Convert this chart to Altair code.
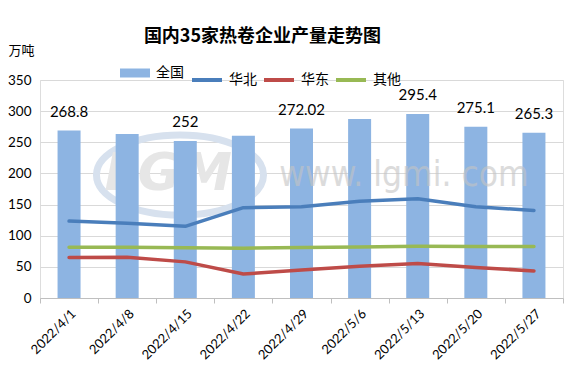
import altair as alt
import pandas as pd

dates = ["2022/4/1", "2022/4/8", "2022/4/15", "2022/4/22", "2022/4/29",
         "2022/5/6", "2022/5/13", "2022/5/20", "2022/5/27"]
national = [268.8, 263.5, 252, 260.5, 272.02, 287.5, 295.4, 275.1, 265.3]
north = [123.5, 120, 115, 145, 146.5, 155.5, 159.5, 146.5, 140.5]
east = [65, 65.5, 58, 38.5, 45, 51, 55.5, 49, 43.5]
other = [81.5, 81.5, 80.5, 80, 81, 82, 83, 82.5, 82.5]
label_text = ["268.8", "", "252", "", "272.02", "", "295.4", "275.1", "265.3"]
y_ticks = [0, 50, 100, 150, 200, 250, 300, 350]

series_names = ["华北", "华东", "其他"]
series_colors = ["#4A7EBB", "#BE4B48", "#98B954"]

bar_df = pd.DataFrame({"date": dates, "value": national, "label": label_text, "name": "全国"})
line_rows = []
for name, vals in zip(series_names, [north, east, other]):
    for d, v in zip(dates, vals):
        line_rows.append({"date": d, "value": v, "series": name})
line_df = pd.DataFrame(line_rows)
lab_df = bar_df[bar_df["label"] != ""]

FONT = "Lato"
CJK = "Noto Sans CJK SC"

x_enc = alt.X("date:N", sort=dates,
              scale=alt.Scale(paddingInner=0, paddingOuter=0),
              axis=alt.Axis(title=None, labelAngle=-45, labelFontSize=13, labelColor="#000",
                            labelFont=FONT, domainColor="#BFBFBF", tickColor="#BFBFBF",
                            tickBand="extent", tickSize=5, labelPadding=4, grid=False))
y_scale = alt.Scale(domain=[0, 350], nice=False)
y_axis = alt.Axis(title="万吨", titleAngle=0, titleAlign="left", titleX=-32, titleY=-30,
                  titleBaseline="middle", titleFont=CJK,
                  titleFontWeight="normal", titleFontSize=13, titleColor="#000",
                  values=y_ticks, tickCount=20, labelOverlap=False,
                  labelFont=FONT, labelFontSize=13.5, labelColor="#000",
                  labelPadding=9, ticks=False, domain=False,
                  gridColor="#D9D9D9", gridWidth=1)

# watermark (decorative, behind bars)
wm_ring = alt.Chart(pd.DataFrame({"k": [0]})).mark_point(
    shape="M-1,0A1,0.48 0 1,0 1,0A1,0.48 0 1,0 -1,0Z", size=27900, filled=False,
    stroke="#D7E1EE", strokeWidth=7, opacity=1
).encode(x=alt.value(140), y=alt.value(95))

wm_logo = alt.Chart(pd.DataFrame({"t": ["LGMI"]})).mark_text(
    font="DejaVu Sans", fontSize=52, fontWeight="bold", fontStyle="italic", color="#E6E6E6",
    align="center", baseline="middle"
).encode(x=alt.value(138), y=alt.value(94), text="t:N")

bars = alt.Chart(bar_df).mark_bar(size=23).encode(
    x=x_enc,
    y=alt.Y("value:Q", scale=y_scale, axis=y_axis),
    fill=alt.Fill("name:N", scale=alt.Scale(domain=["全国"], range=["#8DB4E2"]),
                  legend=alt.Legend(title=None, orient="none", legendX=85, legendY=-17,
                                    symbolType="M-1.5,-0.45H1.5V0.45H-1.5Z", symbolSize=400,
                                    labelFont=CJK, labelFontSize=14,
                                    labelColor="#000", labelOffset=11, symbolStrokeWidth=0)),
)

wm_url = alt.Chart(pd.DataFrame({"t": ["www. lgmi. com"]})).mark_text(
    font="DejaVu Sans Condensed", fontSize=35, color="#C4C4C4", opacity=0.6,
    align="center", baseline="middle"
).encode(x=alt.value(364), y=alt.value(95), text="t:N")

lines = alt.Chart(line_df).mark_line(strokeWidth=3.5, strokeJoin="round", strokeCap="round").encode(
    x=alt.X("date:N", sort=dates),
    y=alt.Y("value:Q", scale=y_scale, axis=y_axis),
    stroke=alt.Stroke("series:N", scale=alt.Scale(domain=series_names, range=series_colors),
                      legend=alt.Legend(title=None, orient="none", legendX=150, legendY=-17,
                                        direction="horizontal", symbolType="stroke",
                                        symbolSize=900, symbolStrokeWidth=4,
                                        labelFont=CJK, labelFontSize=14,
                                        labelColor="#000", labelOffset=5, columnPadding=-1)),
)

labels = alt.Chart(lab_df).mark_text(font=FONT, fontSize=15, color="#000", dy=-19,
                                     baseline="middle").encode(
    x=alt.X("date:N", sort=dates),
    y=alt.Y("value:Q", scale=y_scale, axis=y_axis),
    text="label:N",
)

chart = alt.layer(wm_ring, wm_logo, bars, wm_url, lines, labels).resolve_scale(
    fill="independent"
).properties(
    width=523, height=218,
    autosize=alt.AutoSizeParams(type="none"),
    padding={"left": 32, "top": 72, "right": 13, "bottom": 86},
    title=alt.TitleParams("国内35家热卷企业产量走势图", font=CJK, fontSize=18,
                          fontWeight="bold", color="#000", anchor="middle", offset=-2,
                          dx=-39, dy=18, baseline="bottom"),
).configure_view(stroke=None).configure(background="white")

chart.save("out.html", embed_options={"renderer": "svg", "actions": False})
